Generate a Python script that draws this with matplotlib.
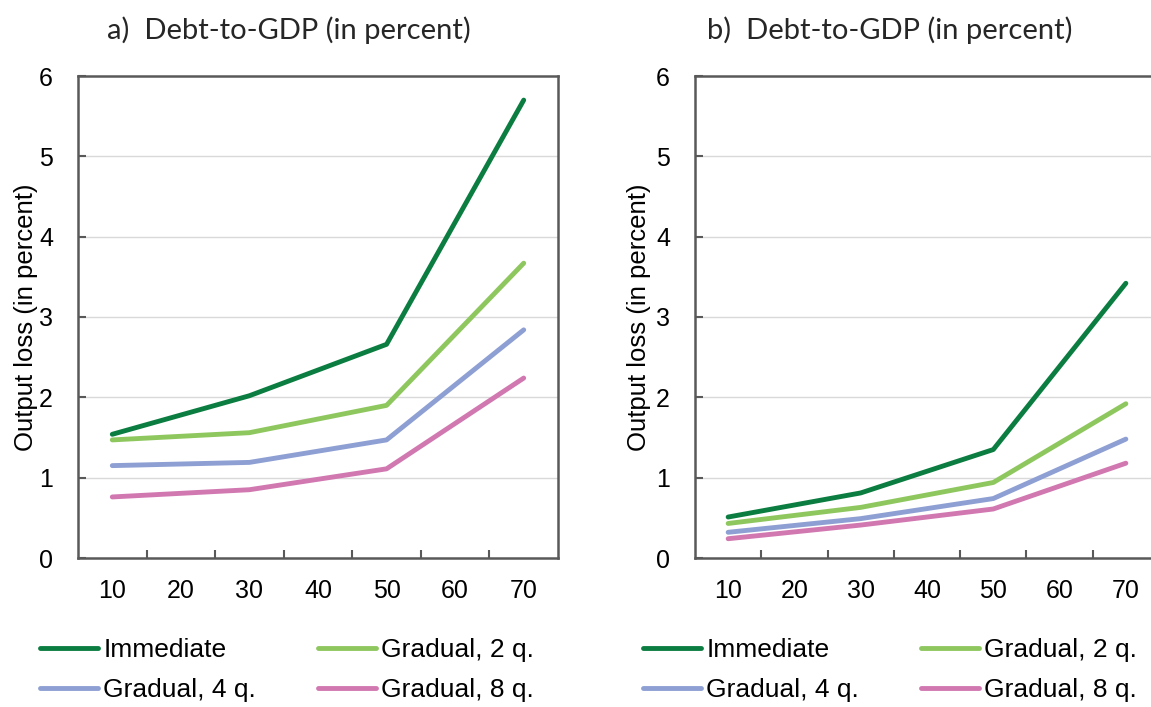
import matplotlib.pyplot as plt
from matplotlib.ticker import FixedLocator

# debt-to-GDP categories, only every other one carries data
debt = [10, 30, 50, 70]
xlabels = [10, 20, 30, 40, 50, 60, 70]

# panel a
a_immediate = [1.54, 2.02, 2.66, 5.70]
a_grad2 = [1.47, 1.56, 1.90, 3.67]
a_grad4 = [1.15, 1.19, 1.47, 2.84]
a_grad8 = [0.76, 0.85, 1.11, 2.24]

# panel b
b_immediate = [0.51, 0.81, 1.35, 3.42]
b_grad2 = [0.43, 0.63, 0.94, 1.92]
b_grad4 = [0.32, 0.49, 0.74, 1.48]
b_grad8 = [0.24, 0.41, 0.61, 1.18]

names = ["Immediate", "Gradual, 2 q.", "Gradual, 4 q.", "Gradual, 8 q."]
colors = ["#0b7d41", "#8fc75f", "#8d9fd3", "#d178b1"]
titles = ["a)  Debt-to-GDP (in percent)", "b)  Debt-to-GDP (in percent)"]

plt.rcParams['font.family'] = ['Liberation Sans', 'DejaVu Sans']

fig = plt.figure(figsize=(11.51, 7.07), dpi=100)
ax_a = fig.add_axes([78 / 1151, 1 - 558 / 707, 480 / 1151, 482 / 707])
ax_b = fig.add_axes([695 / 1151, 1 - 558 / 707, 464 / 1151, 482 / 707])

panels = [
    (ax_a, [a_immediate, a_grad2, a_grad4, a_grad8], 107, 40, -0.083),
    (ax_b, [b_immediate, b_grad2, b_grad4, b_grad8], 707, 643, -0.095),
]

for i, (ax, series, tx, lx, ylx) in enumerate(panels):
    for s, name, c in zip(series, names, colors):
        ax.plot(debt, s, color=c, lw=3.5, label=name, solid_capstyle='round')
    ax.set_xlim(5, 75)
    ax.set_ylim(0, 6)
    ax.set_yticks(range(0, 7))
    ax.xaxis.set_major_locator(FixedLocator(xlabels))
    ax.xaxis.set_minor_locator(FixedLocator([15, 25, 35, 45, 55, 65]))
    ax.set_xticklabels([str(v) for v in xlabels])
    ax.tick_params(axis='x', which='major', length=0, pad=15, labelsize=18)
    ax.tick_params(axis='x', which='minor', direction='in', length=6, width=1.5, color='#595959')
    ax.tick_params(axis='y', direction='in', length=6, width=1.5, color='#595959', pad=18, labelsize=18)
    for g in range(1, 6):
        ax.axhline(g, color='#d9d9d9', lw=1, zorder=0)
    for sp in ax.spines.values():
        sp.set_color('#595959')
        sp.set_linewidth(1.8)
    ax.set_ylabel("Output loss (in percent)", fontsize=18.5)
    ax.yaxis.set_label_coords(ylx, 0.5)
    fig.text(tx / 1151, 1 - 30 / 707, titles[i], fontsize=21, family=['Lato', 'DejaVu Sans'],
             color='#262626', va='center', ha='left')
    h, l = ax.get_legend_handles_labels()
    # row-wise order: Immediate, 2 q. / 4 q., 8 q.
    order = [0, 2, 1, 3]
    fig.legend([h[k] for k in order], [l[k] for k in order], ncol=2, loc='upper left',
               bbox_to_anchor=(lx / 1151, 1 - 638 / 707), frameon=False,
               prop={'size': 19},
               handlelength=2.2, handletextpad=0.2, columnspacing=2.35,
               labelspacing=0.62, borderaxespad=0, borderpad=0)

fig.savefig("out.png", dpi=100)
